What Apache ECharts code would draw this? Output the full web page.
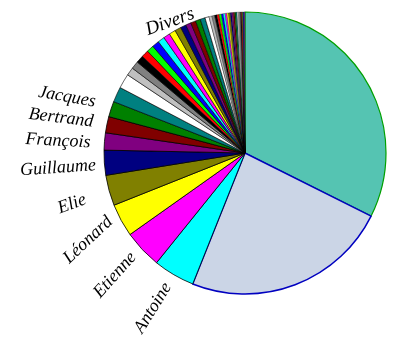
<!DOCTYPE html>
<html>
<head>
<meta charset="utf-8">
<script src="https://cdn.jsdelivr.net/npm/echarts@6/dist/echarts.min.js"></script>
<style>html,body{margin:0;padding:0;background:#fff;}#c{width:400px;height:350px;}</style>
</head>
<body>
<div id="c"></div>
<script>
// Named slices (share, %)
const namedLabels = ["Jean", "Pierre", "Antoine", "Etienne", "Léonard", "Elie", "Guillaume", "François", "Bertrand", "Jacques"];
const namedValues = [32.39, 23.67, 4.75, 4.39, 3.78, 3.50, 2.86, 1.97, 1.86, 1.78];
// "Divers": many small slices (share, %)
const diversValues = [1.75, 1.67, 0.92, 0.89, 0.86, 0.83, 0.81, 0.81, 0.78, 0.75, 0.75, 0.72,
  0.64, 0.61, 0.58, 0.56, 0.56, 0.47, 0.33, 0.31, 0.28, 0.25, 0.25, 0.22, 0.22, 0.19, 0.19,
  0.19, 0.17, 0.17, 0.17, 0.14, 0.14, 0.14, 0.14, 0.11, 0.11, 0.11, 0.08, 0.08, 0.06, 0.06];
const diversLabel = "Divers";

// colours
const jeanColor = "#55c4b2", pierreColor = "#cbd5e6";
const cycle = ["#00ffff", "#ff00ff", "#ffff00", "#808000", "#000080", "#800080", "#800000", "#008000",
  "#008080", "#ffffff", "#c0c0c0", "#808080", "#000000", "#ff0000", "#00ff00", "#0000ff"];

const data = [];
namedLabels.forEach((n, i) => {
  let color, bc = "#000", bw = 0.8;
  if (i === 0) { color = jeanColor; bc = "#00a000"; bw = 1.2; }
  else if (i === 1) { color = pierreColor; bc = "#0000c0"; bw = 1.5; }
  else color = cycle[(i - 2) % cycle.length];
  data.push({ name: n, value: namedValues[i], itemStyle: { color: color, borderColor: bc, borderWidth: bw } });
});
diversValues.forEach((v, j) => {
  const idx = namedLabels.length - 2 + j;
  data.push({ name: diversLabel + " " + (j + 1), value: v,
    itemStyle: { color: cycle[idx % cycle.length], borderColor: "#000", borderWidth: j < 18 ? 0.6 : 0.3 } });
});

const font = "'Liberation Serif', 'DejaVu Serif', serif";
const lab = (text, x, y, deg, size) => ({
  type: "text", x: x, y: y, rotation: deg * Math.PI / 180,
  style: { text: text, font: "italic " + size + "px " + font, fill: "#000", align: "center", verticalAlign: "middle" }
});

const chart = echarts.init(document.getElementById("c"), null, { renderer: "canvas" });
chart.setOption({
  animation: false,
  backgroundColor: "#fff",
  series: [{
    type: "pie",
    center: [245, 153],
    radius: 141,
    startAngle: 90,
    clockwise: true,
    label: { show: false },
    labelLine: { show: false },
    emphasis: { disabled: true },
    data: data
  }],
  graphic: [
    lab("Jean", 319, 112, 0, 27),
    lab("Pierre", 277, 234, 0, 22),
    lab("Divers", 170, 22, 20, 19),
    lab("Jacques", 67, 97, -10, 18),
    lab("Bertrand", 61, 118, -7, 18),
    lab("François", 58, 141, -3, 18),
    lab("Guillaume", 58, 168, 4, 18),
    lab("Elie", 72, 204, 20, 18),
    lab("Léonard", 88, 240, 43, 18),
    lab("Etienne", 115, 275, 48, 18),
    lab("Antoine", 153, 308, 58, 18)
  ]
});
</script>
</body>
</html>
